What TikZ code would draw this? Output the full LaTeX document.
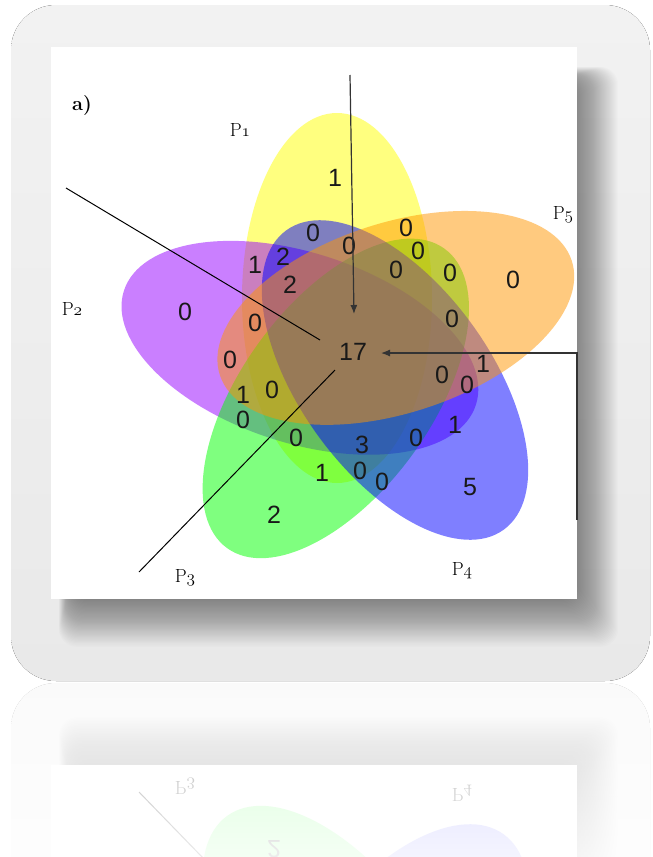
\documentclass[tikz,border=0pt]{standalone}
\usepackage{fontspec}
\usetikzlibrary{fadings,arrows.meta}
\newfontfamily\numfont{Liberation Sans}
\tikzfading[name=reflfade, top color=transparent!33, bottom color=transparent!8]
\definecolor{vyellow}{RGB}{255,255,0}
\definecolor{vpurple}{RGB}{150,0,255}
\definecolor{vgreen}{RGB}{0,255,0}
\definecolor{vblue}{RGB}{0,0,255}
\definecolor{vorange}{RGB}{255,150,0}
\definecolor{frametop}{RGB}{242,242,242}
\definecolor{framebot}{RGB}{233,233,233}
\newcommand\osnum[1]{$\mathnormal{#1}$}
\tikzset{
  vennell/.style={fill opacity=0.5, draw=none},
  cnt/.style={font=\numfont\fontsize{25}{25}\selectfont, text=black!90, inner sep=0pt},
  plabel/.style={font=\fontsize{19}{19}\selectfont, inner sep=0pt},
  conn/.style={black, line width=1pt},
  arrowconn/.style={black!80, line width=1.2pt, -{Latex[length=9pt,width=7pt]}},
}
% frame, shadow, picture and ellipses
\newcommand\myvenngraphics{%
  \fill[top color=frametop, bottom color=framebot, rounded corners=45] (11,5) rectangle (650,681);
  \foreach \i in {0,...,44} {
    \fill[black, opacity=0.012, rounded corners=18] (72-0.3*\i,80-0.3*\i) rectangle (572+1.05*\i,594+1.2*\i);
  }
  \fill[white] (51,47) rectangle (577,599);
  \begin{scope}[shift={(337,298)}, rotate=90]
    \fill[vennell, vyellow] (0,0) ellipse [x radius=185, y radius=95];
  \end{scope}
  \begin{scope}[shift={(299.9,347.8)}, rotate=162]
    \fill[vennell, vpurple] (0,0) ellipse [x radius=185, y radius=95];
  \end{scope}
  \begin{scope}[shift={(335.8,398.4)}, rotate=-126]
    \fill[vennell, vgreen] (0,0) ellipse [x radius=185, y radius=95];
  \end{scope}
  \begin{scope}[shift={(395,380)}, rotate=-54]
    \fill[vennell, vblue] (0,0) ellipse [x radius=185, y radius=95];
  \end{scope}
  \begin{scope}[shift={(395.8,317.9)}, rotate=18]
    \fill[vennell, vorange] (0,0) ellipse [x radius=185, y radius=95];
  \end{scope}
}
% texts that are also seen in the reflection
\newcommand\myvennlowtexts{%
  \node[plabel] (p3) at (185,578) {P\osnum{3}};
  \node[plabel] (p4) at (462,571) {P\osnum{4}};
  \node[cnt] (n21) at (274,515) {2};
}
\begin{document}
\begin{tikzpicture}[x=1pt,y=-1pt]
  \useasboundingbox (0,0) rectangle (653,857);
  \myvenngraphics
  \myvennlowtexts
  % labels
  \node[font=\bfseries\fontsize{20}{20}\selectfont, inner sep=0pt] (lab) at (82,106) {a)};
  \node[plabel] (p1) at (240,130) {P\osnum{1}};
  \node[plabel] (p2) at (72,309) {P\osnum{2}};
  \node[plabel] (p5) at (563,215) {P\osnum{5}};
  % counts
  \node[cnt] (n01) at (335,178) {1};
  \node[cnt] (n02) at (313,233) {0};
  \node[cnt] (n03) at (349,246) {0};
  \node[cnt] (n04) at (406,228) {0};
  \node[cnt] (n05) at (418,251) {0};
  \node[cnt] (n06) at (396,270) {0};
  \node[cnt] (n07) at (450,273) {0};
  \node[cnt] (n08) at (513,280) {0};
  \node[cnt] (n09) at (452,319) {0};
  \node[cnt] (n10) at (255,265) {1};
  \node[cnt] (n11) at (283,257) {2};
  \node[cnt] (n12) at (290,285) {2};
  \node[cnt] (n13) at (185,312) {0};
  \node[cnt] (n14) at (255,323) {0};
  \node[cnt] (n15) at (230,360) {0};
  \node[cnt] (n16) at (243,395) {1};
  \node[cnt] (n17) at (272,390) {0};
  \node[cnt] (n18) at (243,420) {0};
  \node[cnt] (n19) at (296,438) {0};
  \node[cnt] (n20) at (322,473) {1};
  \node[cnt] (n22) at (353,352) {17};
  \node[cnt] (n23) at (442,375) {0};
  \node[cnt] (n24) at (467,385) {0};
  \node[cnt] (n25) at (483,364) {1};
  \node[cnt] (n26) at (455,425) {1};
  \node[cnt] (n27) at (416,438) {0};
  \node[cnt] (n28) at (362,445) {3};
  \node[cnt] (n29) at (360,471) {0};
  \node[cnt] (n30) at (382,482) {0};
  \node[cnt] (n31) at (470,487) {5};
  % connectors
  \coordinate (vtop) at (350,75);
  \coordinate (vtip) at (354,314);
  \coordinate (hstart) at (577,520);
  \coordinate (hcorner) at (577,353);
  \coordinate (htip) at (381,353);
  \coordinate (d1a) at (66,188);
  \coordinate (d1b) at (320,340);
  \coordinate (d2a) at (139,572);
  \coordinate (d2b) at (335,370);
  \draw[arrowconn] (vtop) -- (vtip);
  \draw[arrowconn] (hstart) -- (hcorner) -- (htip);
  \draw[conn] (d1a) -- (d1b);
  \draw[conn] (d2a) -- (d2b);
  % reflection
  \begin{scope}
    \clip (0,682) rectangle (653,857);
    \begin{scope}[cm={1,0,0,-1,(0pt,-1364pt)}, transform shape]
      \myvenngraphics
      \myvennlowtexts
      \coordinate (rd2a) at (139,572);
      \coordinate (rd2b) at (335,370);
      \draw[conn] (rd2a) -- (rd2b);
    \end{scope}
  \end{scope}
  \fill[white, path fading=reflfade] (0,682) rectangle (653,857);
\end{tikzpicture}
\end{document}
